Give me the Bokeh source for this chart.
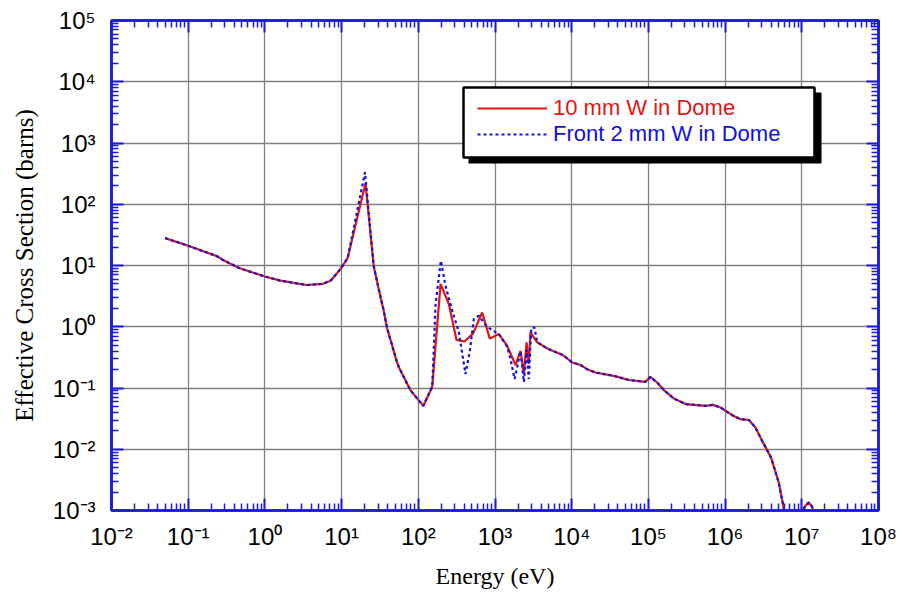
from bokeh.plotting import figure
from bokeh.models import (FixedTicker, LogAxis, CustomJSTickFormatter, Legend, LegendItem,
                          BoxAnnotation, ColumnDataSource)
from bokeh.embed import file_html
from bokeh.resources import INLINE

# ---------------- data ----------------
x_major_ticks = [1e-2, 1e-1, 1e0, 1e1, 1e2, 1e3, 1e4, 1e5, 1e6, 1e7, 1e8]
y_major_ticks = [1e-3, 1e-2, 1e-1, 1e0, 1e1, 1e2, 1e3, 1e4, 1e5]
minor_multipliers = [2, 3, 4, 5, 6, 7, 8, 9]

# "10 mm W in Dome" (red, solid)
red_energy = [0.05, 0.1, 0.24, 0.28, 0.46, 1.0, 1.6, 3.5, 5.6, 7.2, 9.7, 12, 20.5, 26.2, 30.5,
              35.5, 39, 52, 56, 79, 116, 152, 195, 250, 315, 400, 519, 680, 855, 1120, 1440,
              1850, 2150, 2380, 2580, 2760, 2900, 3550, 4550, 5300, 7150, 7900, 10140, 13000,
              15900, 20400, 35400, 55600, 91700, 106000, 130000, 159000, 214000, 305000,
              433000, 555000, 699000, 871000, 1.24e6, 1.59e6, 2.04e6, 2.49e6, 3.04e6, 3.98e6,
              5.0e6, 6.0e6]
red_sigma = [28, 21, 14.1, 12.4, 9.1, 6.6, 5.65, 4.8, 5.0, 5.65, 8.8, 13.3, 220, 9.8, 4.1,
             1.8, 0.97, 0.28, 0.216, 0.092, 0.051, 0.105, 5.0, 2.35, 0.61, 0.575, 0.78, 1.71,
             0.64, 0.76, 0.49, 0.237, 0.405, 0.169, 0.555, 0.246, 0.81, 0.555, 0.46, 0.416,
             0.358, 0.336, 0.261, 0.237, 0.203, 0.179, 0.158, 0.135, 0.126, 0.152, 0.123,
             0.0925, 0.0675, 0.0546, 0.0525, 0.0512, 0.053, 0.048, 0.036, 0.031, 0.030,
             0.0226, 0.0137, 0.0073, 0.00286, 0.0009]

# "Front 2 mm W in Dome" (blue, dotted)
blue_energy = [0.05, 0.1, 0.24, 0.28, 0.46, 1.0, 1.6, 3.5, 5.6, 7.2, 9.7, 12, 20.2, 26.2, 30.5,
               35.5, 39, 52, 56, 79, 116, 152, 168, 197, 226, 277, 338, 412, 470, 530, 615,
               790, 945, 1120, 1440, 1590, 1800, 1950, 2150, 2380, 2580, 2760, 2970, 3270,
               3550, 4550, 5300, 7150, 7900, 10140, 13000, 15900, 20400, 35400, 55600, 91700,
               106000, 130000, 159000, 214000, 305000, 433000, 555000, 699000, 871000, 1.24e6,
               1.59e6, 2.04e6, 2.49e6, 3.04e6, 3.98e6, 5.0e6, 6.0e6]
blue_sigma = [28, 21, 14.1, 12.4, 9.1, 6.6, 5.65, 4.8, 5.0, 5.65, 8.8, 13.3, 332, 9.8, 4.1,
              1.8, 0.97, 0.28, 0.216, 0.092, 0.051, 0.105, 2.35, 12, 4.7, 1.83, 0.81, 0.169,
              0.405, 1.34, 1.51, 1.0, 0.86, 0.76, 0.47, 0.30, 0.14, 0.22, 0.40, 0.125, 0.42,
              0.14, 0.95, 0.97, 0.56, 0.46, 0.416, 0.358, 0.336, 0.261, 0.237, 0.203, 0.179,
              0.158, 0.135, 0.126, 0.152, 0.123, 0.0925, 0.0675, 0.0546, 0.0525, 0.0512, 0.053,
              0.048, 0.036, 0.031, 0.030, 0.0226, 0.0137, 0.0073, 0.00286, 0.0009]

# small resonance bump near 10^7 eV (both series)
bump_energy = [1.0e7, 1.1e7, 1.23e7, 1.35e7, 1.46e7]
bump_sigma = [0.00085, 0.00118, 0.00135, 0.00118, 0.00085]

series_labels = ["10 mm W in Dome", "Front 2 mm W in Dome"]
x_title = "Energy (eV)"
y_title = "Effective Cross Section (barns)"

# ---------------- style ----------------
AXIS_BLUE = "#1a1ae0"
RED = "#e01515"
BLUE = "#1010e0"
GRID = "#808080"

x_minor = [m * t for t in x_major_ticks[:-1] for m in minor_multipliers]
y_minor = [m * t for t in y_major_ticks[:-1] for m in minor_multipliers]

p = figure(width=900, height=598, x_axis_type="log", y_axis_type="log",
           x_range=(1e-2, 1e8), y_range=(1e-3, 1e5),
           output_backend="svg", toolbar_location=None,
           min_border_left=111, min_border_right=22, min_border_top=20, min_border_bottom=88)
p.background_fill_color = "white"
p.border_fill_color = "white"
p.outline_line_color = AXIS_BLUE
p.outline_line_width = 2.5

xt = FixedTicker(ticks=x_major_ticks, minor_ticks=x_minor)
yt = FixedTicker(ticks=y_major_ticks, minor_ticks=y_minor)

sup_code = """
const sup = {"-": "\u207b", "0": "\u2070", "1": "\u00b9", "2": "\u00b2", "3": "\u00b3",
             "4": "\u2074", "5": "\u2075", "6": "\u2076", "7": "\u2077", "8": "\u2078", "9": "\u2079"};
const e = Math.round(Math.log10(tick));
return "10" + String(e).split("").map(c => sup[c]).join("");
"""
fmt = CustomJSTickFormatter(code=sup_code)
empty_fmt = CustomJSTickFormatter(code="return '';")


def style_axis(ax, ticker, labels=True):
    ax.ticker = ticker
    ax.axis_line_color = AXIS_BLUE
    ax.axis_line_width = 2.5
    ax.major_tick_line_color = AXIS_BLUE
    ax.major_tick_line_width = 2
    ax.minor_tick_line_color = AXIS_BLUE
    ax.minor_tick_line_width = 1.5
    ax.major_tick_in = 12
    ax.major_tick_out = 0
    ax.minor_tick_in = 7
    ax.minor_tick_out = 0
    if labels:
        ax.formatter = fmt
        ax.major_label_text_font = "Liberation Sans"
        ax.major_label_text_font_size = "24px"
        ax.major_label_text_color = "black"
    else:
        ax.formatter = empty_fmt
        ax.major_label_text_font_size = "0px"
        ax.major_label_standoff = 0


style_axis(p.xaxis[0], xt)
style_axis(p.yaxis[0], yt)
p.xaxis[0].major_label_standoff = 12
p.yaxis[0].major_label_standoff = 16

p.xaxis[0].axis_label = x_title
p.yaxis[0].axis_label = y_title
for ax, size, st in ((p.xaxis[0], "24px", 10), (p.yaxis[0], "25px", 12)):
    ax.axis_label_text_font = "Liberation Serif"
    ax.axis_label_text_font_size = size
    ax.axis_label_text_font_style = "normal"
    ax.axis_label_text_color = "black"
    ax.axis_label_standoff = st

top_ax = LogAxis()
right_ax = LogAxis()
style_axis(top_ax, xt, labels=False)
style_axis(right_ax, yt, labels=False)
p.add_layout(top_ax, "above")
p.add_layout(right_ax, "right")

p.xgrid.ticker = xt
p.ygrid.ticker = yt
for g in (p.xgrid[0], p.ygrid[0]):
    g.grid_line_color = GRID
    g.grid_line_width = 1.3
    g.minor_grid_line_color = None

red_src = ColumnDataSource(dict(x=red_energy, y=red_sigma))
blue_src = ColumnDataSource(dict(x=blue_energy, y=blue_sigma))
bump_src = ColumnDataSource(dict(x=bump_energy, y=bump_sigma))

r_red = p.line("x", "y", source=red_src, line_color=RED, line_width=2.2)
p.line("x", "y", source=bump_src, line_color=RED, line_width=2.2)
r_blue = p.line("x", "y", source=blue_src, line_color=BLUE, line_width=2.2, line_dash="3 3")
p.line("x", "y", source=bump_src, line_color=BLUE, line_width=2.2, line_dash="3 3")

# legend box with drop shadow
shadow = BoxAnnotation(left=468, right=821, top=92, bottom=163,
                       left_units="canvas", right_units="canvas", top_units="canvas", bottom_units="canvas",
                       fill_color="black", fill_alpha=1, line_color=None)
box = BoxAnnotation(left=463, right=814, top=87, bottom=157,
                    left_units="canvas", right_units="canvas", top_units="canvas", bottom_units="canvas",
                    fill_color="white", fill_alpha=1, line_color="black", line_alpha=1, line_width=2.5)
p.add_layout(shadow)
p.add_layout(box)


def make_legend(label, rend, color, loc):
    lg = Legend(items=[LegendItem(label=label, renderers=[rend])], location=loc,
                padding=0, margin=0, border_line_alpha=0, background_fill_alpha=0,
                label_text_font="Liberation Sans", label_text_font_size="22px",
                label_text_color=color, glyph_width=70, glyph_height=24, label_height=24,
                label_standoff=6)
    return lg


p.add_layout(make_legend(series_labels[0], r_red, RED, (366, 389)))
p.add_layout(make_legend(series_labels[1], r_blue, BLUE, (366, 363)))

open("out.html", "w").write(file_html(p, INLINE))
